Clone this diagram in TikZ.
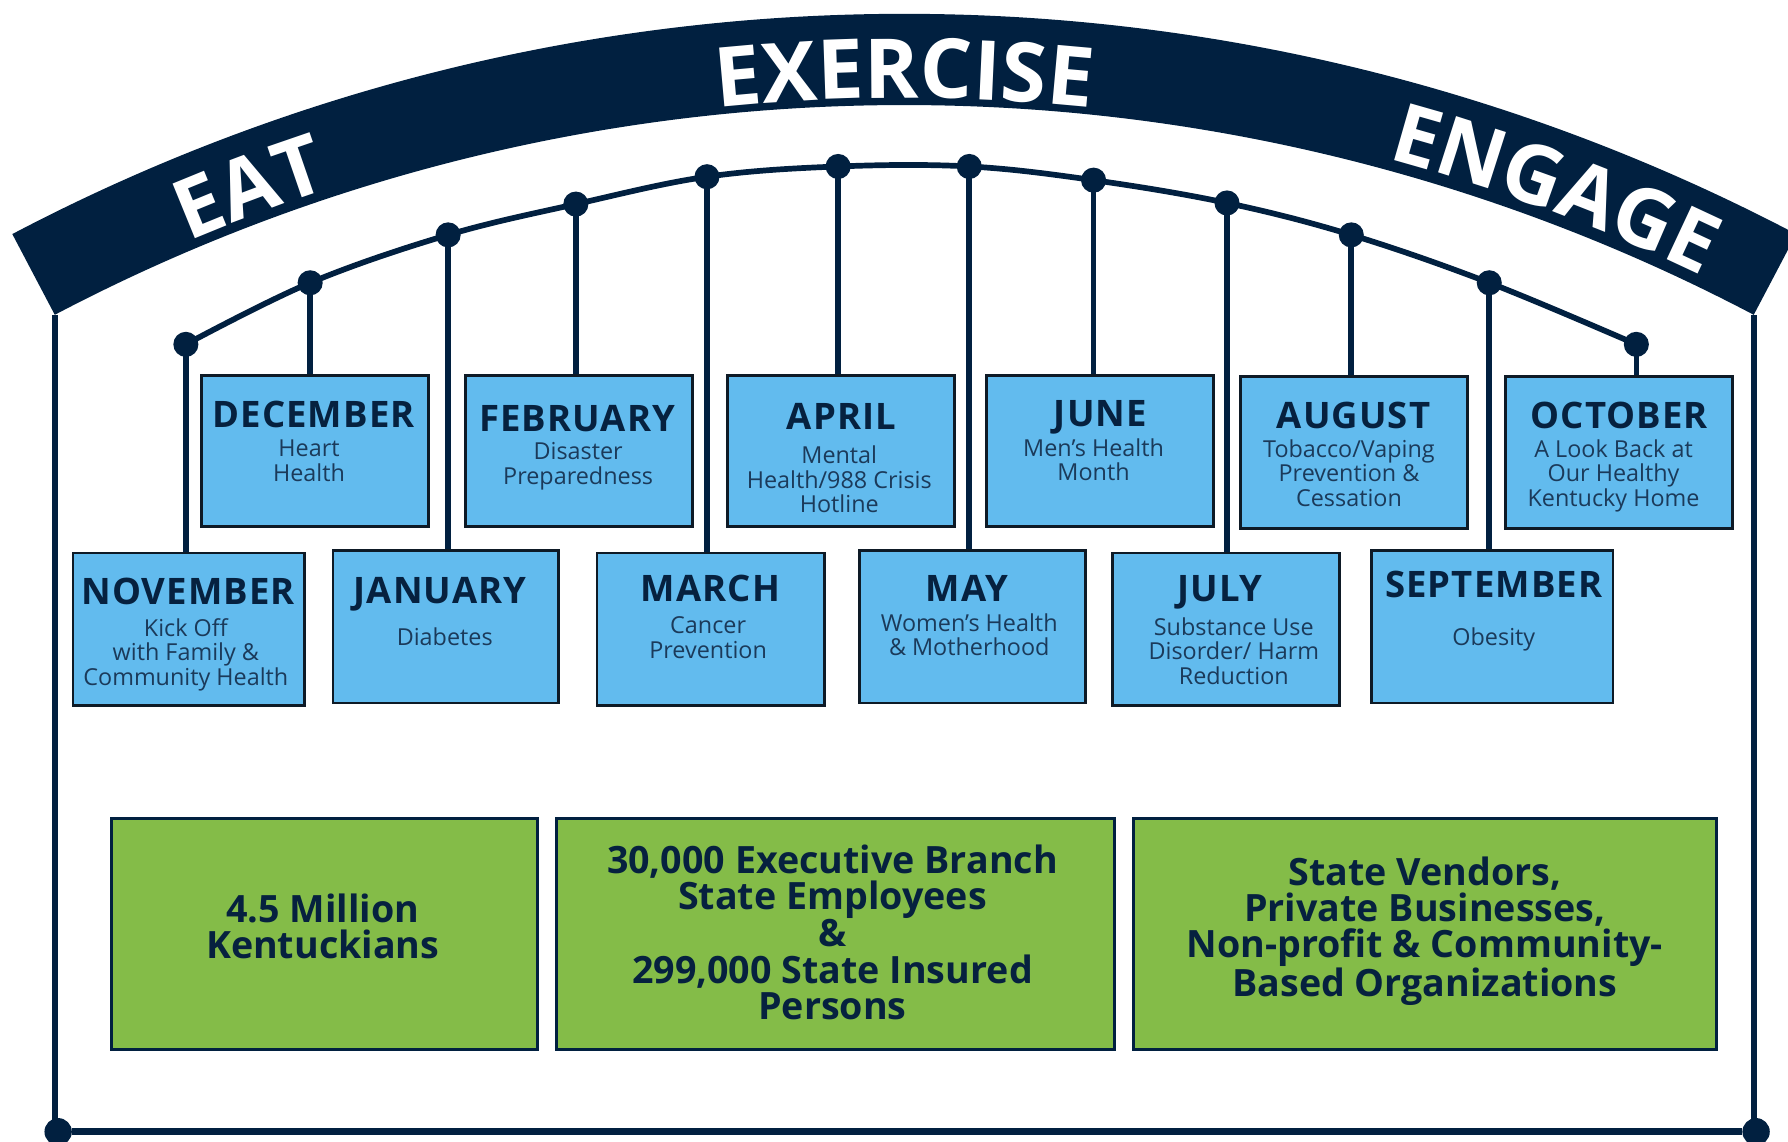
\documentclass[tikz,border=0pt]{standalone}
\usepackage{fontspec}
\setmainfont{Open Sans}
\usetikzlibrary{decorations.text}
\definecolor{navy}{HTML}{012040}
\definecolor{boxblue}{HTML}{62BBEE}
\definecolor{boxline}{HTML}{0E1A26}
\definecolor{titlenavy}{HTML}{06213F}
\definecolor{bodynavy}{HTML}{1B3A5A}
\definecolor{grn}{HTML}{84BC48}
\newcommand\bannerfont{\fontsize{72.5}{78}\selectfont\bfseries}
\newcommand\mtitlefont{\fontsize{32}{34}\selectfont\bfseries\addfontfeatures{LetterSpace=3}}
\newcommand\mbodyfont{\fontsize{20.5}{21.5}\selectfont}
\newcommand\gfont{\fontsize{33}{31.8}\selectfont\bfseries}
\begin{document}
\begin{tikzpicture}[x=1pt,y=1pt,
  mbox/.style={rectangle,draw=boxline,line width=2.5pt,fill=boxblue,inner sep=0pt,minimum height=133pt},
  gbox/.style={rectangle,draw=navy,line width=2.5pt,fill=grn,inner sep=0pt,minimum height=202pt},
  mtitle/.style={font=\mtitlefont,text=titlenavy,anchor=base,inner sep=0pt},
  mbody/.style={font=\mbodyfont,text=bodynavy,anchor=base,align=center,inner sep=0pt},
  gtext/.style={font=\gfont,text=titlenavy,anchor=base,align=center,inner sep=0pt},
  tdot/.style={circle,fill=navy,minimum size=22pt,inner sep=0pt},
  bdot/.style={circle,fill=navy,minimum size=24pt,inner sep=0pt},
  stem/.style={draw=navy,line width=5pt},
  curveline/.style={draw=navy,line width=5pt},
  sideline/.style={draw=navy,line width=5pt},
  baseline/.style={draw=navy,line width=6.5pt},
  bantext/.style={decorate,decoration={text along path,text color=white,text align=center}}
]
\useasboundingbox (0,0) rectangle (1568,1001);
\fill[white] (0,0) rectangle (1568,1001);

% banner
\fill[navy] ([shift={(793,-691)}]117.75:1680) arc[start angle=117.75,end angle=62.25,radius=1680]
  -- ([shift={(793,-691)}]62.25:1600) arc[start angle=62.25,end angle=117.75,radius=1600] -- cycle;
\path[bantext,decoration={text={|\bannerfont|EAT}}]
  ([shift={(793,-691)}]119.6:1608) arc[start angle=119.6,end angle=101.6,radius=1608];
\path[bantext,decoration={text={|\bannerfont|EXERCISE}}]
  ([shift={(793,-691)}]100:1606) arc[start angle=100,end angle=80,radius=1606];
\path[bantext,decoration={text={|\bannerfont|ENGAGE}}]
  ([shift={(793,-691)}]78.5:1610) arc[start angle=78.5,end angle=60.5,radius=1610];

% frame
\coordinate (cl) at ([shift={(793,-691)}]117.75:1600);
\coordinate (cr) at ([shift={(793,-691)}]62.25:1600);
\node[bdot] (bl) at (51,8.5) {};
\node[bdot] (br) at (1540,8.5) {};
\draw[sideline] (cl) -- (cl |- bl);
\draw[sideline] (cr) -- (cr |- br);
\draw[baseline] (bl) -- (br);

% timeline dots
\node[tdot] (d1) at (163,699) {};
\node[tdot] (d2) at (272,753) {};
\node[tdot] (d3) at (393,795) {};
\node[tdot] (d4) at (505,822) {};
\node[tdot] (d5) at (620,846) {};
\node[tdot] (d6) at (735,855) {};
\node[tdot] (d7) at (850,855) {};
\node[tdot] (d8) at (959,843) {};
\node[tdot] (d9) at (1076,823) {};
\node[tdot] (d10) at (1185,795) {};
\node[tdot] (d11) at (1306,753) {};
\node[tdot] (d12) at (1435,699) {};
\draw[curveline] plot[smooth,tension=0.6] coordinates {(d1.center) (d2.center) (d3.center) (d4.center) (d5.center) (d6.center) (d7.center) (d8.center) (d9.center) (d10.center) (d11.center) (d12.center)};

% month boxes, top row
\node[mbox,minimum width=199pt] (dec) at (276.5,605.5) {};
\node[mbox,minimum width=199pt] (feb) at (507.5,605.5) {};
\node[mbox,minimum width=199pt] (apr) at (737.5,605.5) {};
\node[mbox,minimum width=199pt] (jun) at (964.5,605.5) {};
\node[mbox,minimum width=199pt] (aug) at (1187.5,604) {};
\node[mbox,minimum width=199pt] (oct) at (1419.5,604) {};
% bottom row
\node[mbox,minimum width=203pt,minimum height=134pt] (nov) at (165.5,449) {};
\node[mbox,minimum width=198pt,minimum height=134pt] (jan) at (391,451.5) {};
\node[mbox,minimum width=199.5pt,minimum height=134pt] (mar) at (623.25,449) {};
\node[mbox,minimum width=198pt,minimum height=134pt] (may) at (853,451.5) {};
\node[mbox,minimum width=199.5pt,minimum height=134pt] (jul) at (1075.25,449) {};
\node[mbox,minimum width=211.5pt,minimum height=134pt] (sep) at (1308.75,451.5) {};

% stems
\draw[stem] (d1.center) -- (d1.center |- nov.north);
\draw[stem] (d2.center) -- (d2.center |- dec.north);
\draw[stem] (d3.center) -- (d3.center |- jan.north);
\draw[stem] (d4.center) -- (d4.center |- feb.north);
\draw[stem] (d5.center) -- (d5.center |- mar.north);
\draw[stem] (d6.center) -- (d6.center |- apr.north);
\draw[stem] (d7.center) -- (d7.center |- may.north);
\draw[stem] (d8.center) -- (d8.center |- jun.north);
\draw[stem] (d9.center) -- (d9.center |- jul.north);
\draw[stem] (d10.center) -- (d10.center |- aug.north);
\draw[stem] (d11.center) -- (d11.center |- sep.north);
\draw[stem] (d12.center) -- (d12.center |- oct.north);

% month texts (body anchored at the baseline of its last line)
\node[mtitle] (dect) at (275,626) {DECEMBER};
\node[mbody] (decb) at (271,579) {Heart\\Health};
\node[mtitle] (febt) at (506,623) {FEBRUARY};
\node[mbody] (febb) at (507,576.3) {Disaster\\Preparedness};
\node[mtitle] (aprt) at (738,624) {APRIL};
\node[mbody] (aprb) at (736,551.4) {Mental\\Health/988 Crisis\\Hotline};
\node[mtitle] (junt) at (965,627) {JUNE};
\node[mbody] (junb) at (959,579.2) {Men’s Health\\Month};
\node[mtitle] (augt) at (1187,625) {AUGUST};
\node[mbody] (augb) at (1183,557) {Tobacco/Vaping\\Prevention \&\\Cessation};
\node[mtitle] (octt) at (1420,625) {OCTOBER};
\node[mbody] (octb) at (1415,557) {A Look Back at\\Our Healthy\\Kentucky Home};
\node[mtitle] (novt) at (165,471) {NOVEMBER};
\node[mbody] (novb) at (163,400) {Kick Off\\with Family \&\\Community Health};
\node[mtitle] (jant) at (386,472) {JANUARY};
\node[mbody] (janb) at (390,435) {Diabetes};
\node[mtitle] (mart) at (623,473.4) {MARCH};
\node[mbody] (marb) at (621,423.7) {Cancer\\Prevention};
\node[mtitle] (mayt) at (848,473.4) {MAY};
\node[mbody] (mayb) at (850,426) {Women’s Health\\\& Motherhood};
\node[mtitle] (jult) at (1070,473.4) {JULY};
\node[mbody] (julb) at (1082,401) {Substance Use\\Disorder/ Harm\\Reduction};
\node[mtitle] (sept) at (1310,477) {SEPTEMBER};
\node[mbody] (sepb) at (1310,434.5) {Obesity};

% green boxes
\node[gbox,minimum width=373pt] (g1) at (284.5,182) {};
\node[gbox,minimum width=489pt] (g2) at (732.5,182) {};
\node[gbox,minimum width=511pt] (g3) at (1249.5,182) {};
\node[gtext] (g1t) at (283,160.5) {4.5 Million\\Kentuckians};
\node[gtext] (g2t) at (730,107) {30,000 Executive Branch\\State Employees\\\&\\299,000 State Insured\\Persons};
\node[gtext] (g3t) at (1249.5,127) {State Vendors,\\Private Businesses,\\Non-profit \& Community-\\Based Organizations};
\end{tikzpicture}
\end{document}
